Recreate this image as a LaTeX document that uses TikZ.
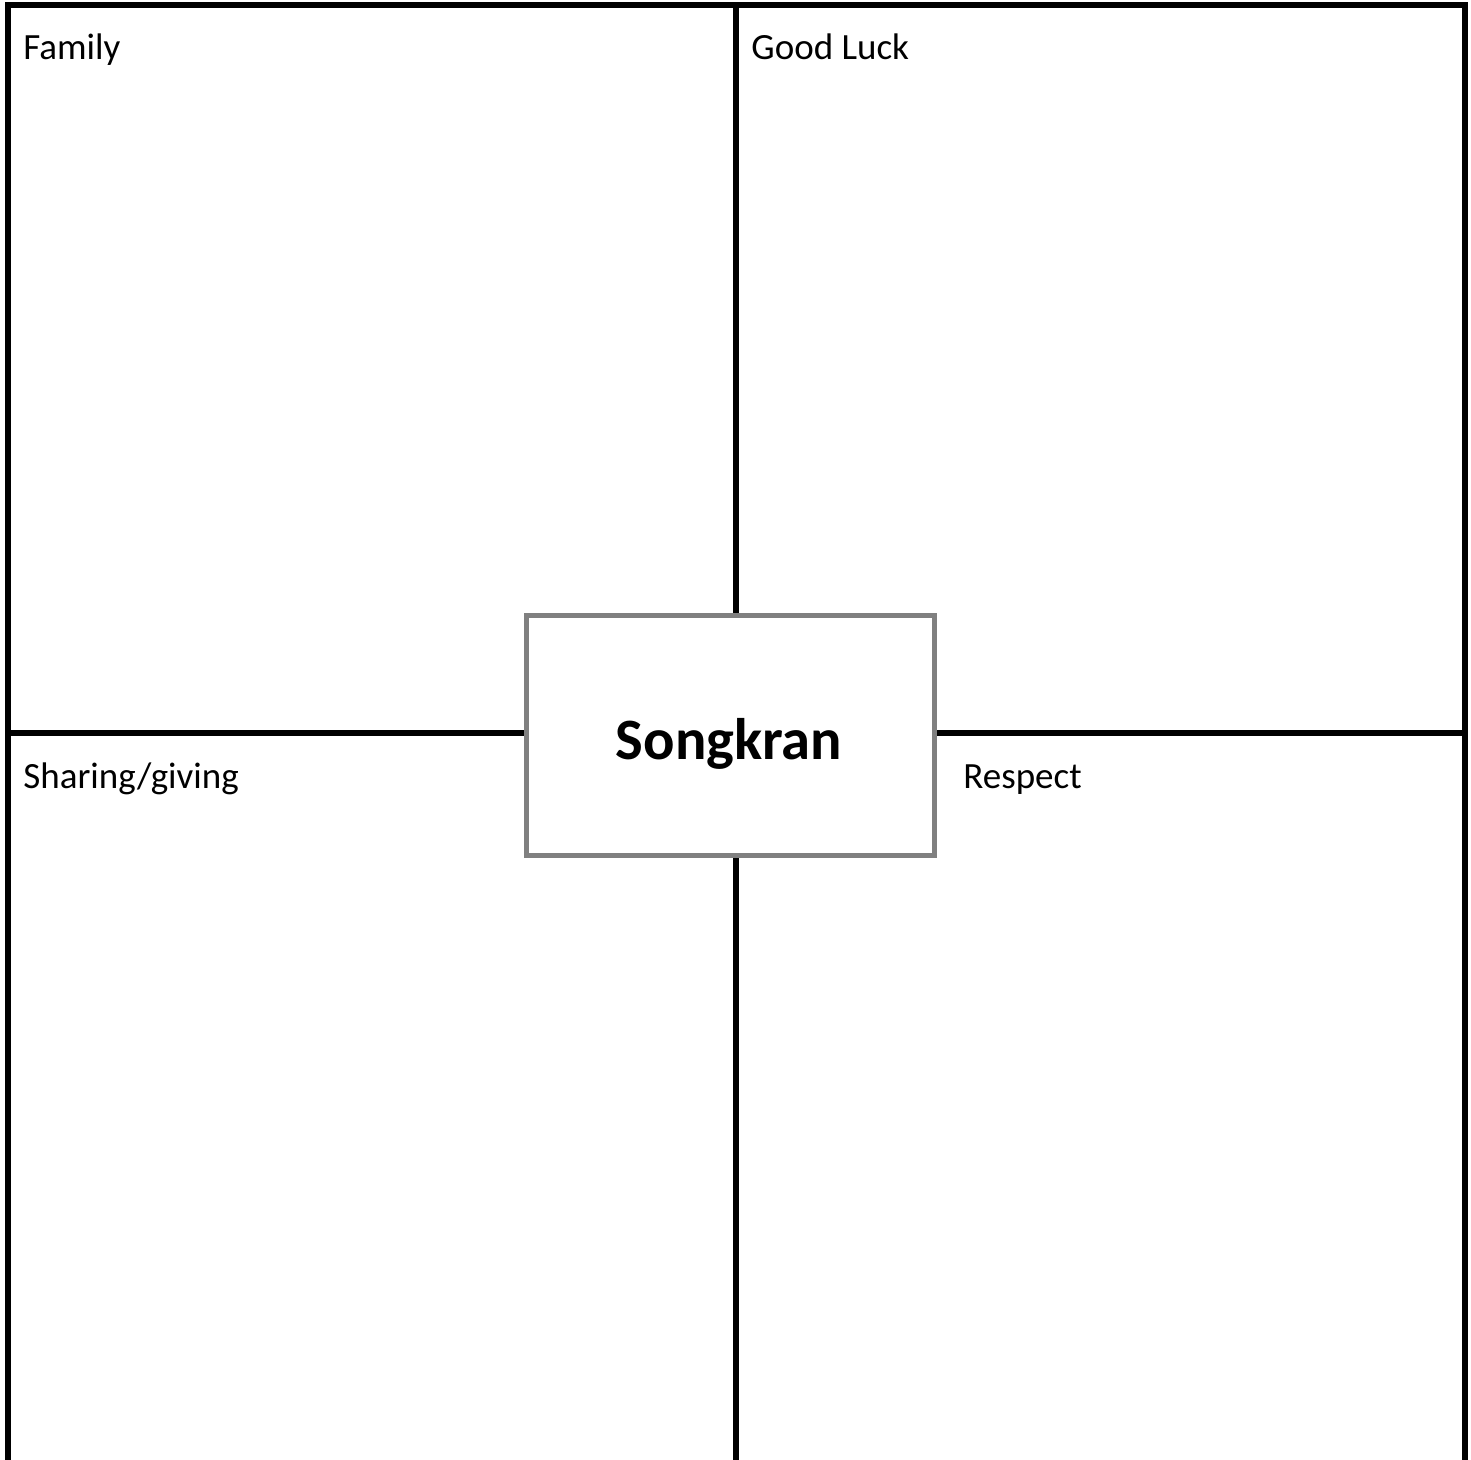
\documentclass[tikz,border=0pt]{standalone}
\usepackage{fontspec}
\setmainfont{Carlito}
\usepackage{xcolor}
\usetikzlibrary{calc, positioning}
\definecolor{FrameGray}{HTML}{808080}

\begin{document}
\begin{tikzpicture}[x=0.5pt, y=-0.5pt,
      grid/.style={draw=black, line width=3pt},
      label/.style={anchor=base west, inner sep=0pt, font=\fontsize{18.5}{22}\selectfont},
      centerbox/.style={draw=FrameGray, line width=2.5pt, fill=white,
                  minimum width=204pt, minimum height=120pt, inner sep=0pt}]
      \useasboundingbox (0,0) rectangle (1471,1460);
      % Frame and cross lines
      \coordinate (tl) at (8,5);
      \coordinate (tr) at (1465,5);
      \draw[grid] (8,1460) -- (tl) -- (tr) -- (1465,1460);
      \draw[grid] (736,5) -- (736,1460);
      \draw[grid] (8,733) -- (1465,733);
      % Centre box
      \node[centerbox] (songkran) at (730,735) {};
      \node[anchor=base, inner sep=0pt, font=\fontsize{29.3}{34}\selectfont\bfseries] (title) at (729,759) {Songkran};
      % Quadrant labels
      \node[label] (family)  at (23,60)   {Family};
      \node[label] (luck)    at (751,60)  {Good Luck};
      \node[label] (sharing) at (23,788)  {Sharing/giving};
      \node[label] (respect) at (963,788) {Respect};
    \end{tikzpicture}
\end{document}
